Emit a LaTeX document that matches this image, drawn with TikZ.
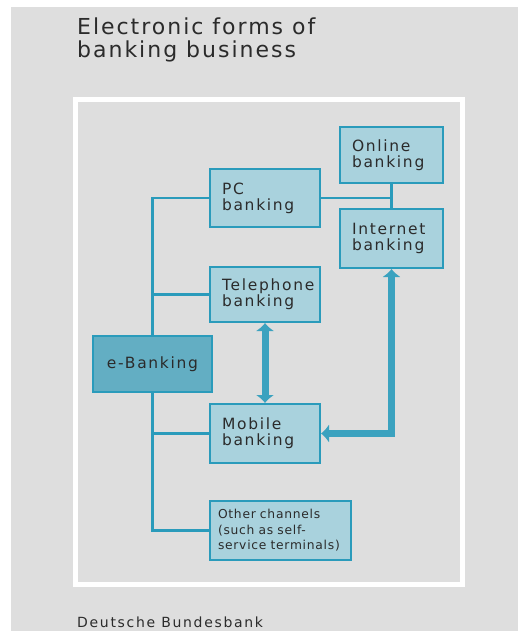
\documentclass[tikz,border=0pt]{standalone}
\usepackage{fontspec}
\setmainfont{DejaVu Sans}
\newfontfamily\boxfont[LetterSpace=11]{DejaVu Sans}
\newfontfamily\smallfont[LetterSpace=6]{DejaVu Sans}
\newfontfamily\notefont[LetterSpace=12]{DejaVu Sans}
\newfontfamily\titlefont[LetterSpace=9]{DejaVu Sans}
\usetikzlibrary{arrows.meta}
\definecolor{pagegray}{HTML}{DEDEDE}
\definecolor{boxfill}{HTML}{A9D2DD}
\definecolor{rootfill}{HTML}{63AEC3}
\definecolor{lineblue}{HTML}{2A9BBB}
\definecolor{arrowblue}{HTML}{3BA2BF}
\definecolor{inkgray}{HTML}{2B2B2B}

\begin{document}
\begin{tikzpicture}[x=1pt,y=-1pt,
    box/.style={draw=lineblue, line width=2pt, fill=boxfill, inner xsep=12pt,
      inner ysep=0pt, align=left, text=inkgray, font=\boxfont\fontsize{15.5}{16}\selectfont},
    link/.style={draw=lineblue, line width=2.2pt},
    fatlink/.style={draw=arrowblue, line width=7pt, {Latex[length=8pt,width=19pt]}-{Latex[length=8pt,width=19pt]}}]
  \useasboundingbox (0,0) rectangle (518,631);
  % page and frame
  \fill [pagegray] (11,7) rectangle (518,631);
  \draw [white, line width=5pt] (75.5,99.5) rectangle (462.5,584.5);
  \node [anchor=north west, align=left, inner sep=0pt, text=inkgray,
    font=\titlefont\fontsize{22}{22.5}\selectfont] at (77,18) (title) {Electronic forms of\\banking business};
  \node [anchor=base west, inner sep=0pt, text=inkgray,
    font=\notefont\fontsize{14}{14}\selectfont] at (77,627) (source) {Deutsche Bundesbank};
  % boxes
  \node [box, text width=79pt, minimum height=56pt] at (391.5,155) (online) {Online\\banking};
  \node [box, text width=79pt, minimum height=59pt] at (391.5,238.5) (internet) {Internet\\banking};
  \node [box, text width=86pt, minimum height=57pt] at (265,198) (pc) {PC\\banking};
  \node [box, text width=86pt, minimum height=55pt] at (265,294.5) (tel) {Telephone\\banking};
  \node [box, fill=rootfill, align=center, text width=95pt, minimum height=56pt] at (152.5,364) (ebank) {e-Banking};
  \node [box, text width=86pt, minimum height=59pt] at (265,433.5) (mobile) {Mobile\\banking};
  \node [box, inner xsep=8pt, text width=125pt, minimum height=59pt, font=\smallfont\fontsize{12.3}{15.5}\selectfont] at (280.5,530.5) (other) {Other channels\\(such as self-\\service terminals)};
  % tree
  \draw [link] (pc.west) -| (ebank.north);
  \draw [link] (tel.west) -| (ebank.north);
  \draw [link] (mobile.west) -| (ebank.south);
  \draw [link] (other.west) -| (ebank.south);
  \draw [link] (online.south) -- (internet.north);
  \draw [link] (pc.east) -- (pc.east -| online.south);
  % thick arrows
  \draw [fatlink] (tel.south) -- (mobile.north);
  \draw [fatlink] (internet.south) |- (mobile.east);
\end{tikzpicture}
\end{document}
